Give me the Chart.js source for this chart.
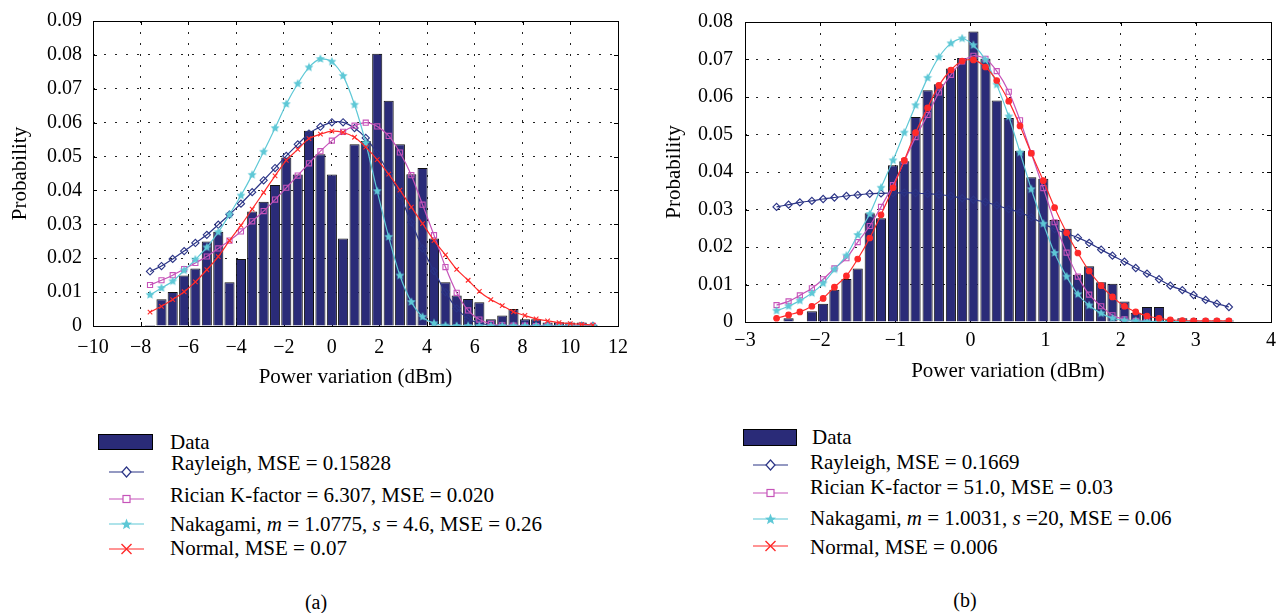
<!DOCTYPE html>
<html>
<head>
<meta charset="utf-8">
<title>Power variation histograms</title>
<script src="https://cdn.jsdelivr.net/npm/chart.js@4.4.1/dist/chart.umd.min.js"></script>
<style>
    body { margin: 0; background: #fff; font-family: "Liberation Serif", "Times New Roman", serif; }
    #page { position: relative; width: 1285px; height: 613px; overflow: hidden; }
    canvas { position: absolute; top: 0; }
    #chartA { left: 0; }
    #chartB { left: 640px; }
    .leg { position: absolute; font-size: 21px; line-height: 24px; white-space: pre; color: #000; }
    .sym { position: absolute; }
    .box { position: absolute; background: #2a2b78; border: 1px solid #000; box-sizing: border-box; }
    .cap { position: absolute; width: 60px; text-align: center; font-size: 20px; line-height: 24px; }
</style>
</head>
<body>
<div id="page">
    <canvas id="chartA" width="640" height="400"></canvas>
    <canvas id="chartB" width="645" height="400"></canvas>

    <!-- legend (a) -->
    <div class="box" style="left:98px;top:434px;width:55px;height:16px"></div>
    <div class="leg" style="left:170px;top:430px">Data</div>
    <svg class="sym" style="left:109px;top:465px" width="35" height="14"><line x1="0" y1="7" x2="35" y2="7" stroke="#2b3486" stroke-width="1.2"/><path d="M17.5 2 L22 7 L17.5 12 L13 7 Z" fill="#fff" stroke="#2b3486" stroke-width="1.2"/></svg>
    <div class="leg" style="left:171px;top:451px">Rayleigh, MSE = 0.15828</div>
    <svg class="sym" style="left:109px;top:492px" width="35" height="14"><line x1="0" y1="7" x2="35" y2="7" stroke="#c653b9" stroke-width="1.2"/><rect x="14" y="3.5" width="7" height="7" fill="#fff" stroke="#c653b9" stroke-width="1.2"/></svg>
    <div class="leg" style="left:170px;top:483px">Rician K-factor = 6.307, MSE = 0.020</div>
    <svg class="sym" style="left:109px;top:517px" width="35" height="14"><line x1="0" y1="7" x2="35" y2="7" stroke="#5ec8d6" stroke-width="1.2"/><path d="M17.5 1.5 L19 5.5 L23 5.7 L19.9 8.2 L21 12.3 L17.5 10 L14 12.3 L15.1 8.2 L12 5.7 L16 5.5 Z" fill="#5ec8d6"/></svg>
    <div class="leg" style="left:170px;top:512px">Nakagami, <i>m</i> = 1.0775, <i>s</i> = 4.6, MSE = 0.26</div>
    <svg class="sym" style="left:109px;top:542px" width="35" height="14"><line x1="0" y1="7" x2="35" y2="7" stroke="#ff2a2a" stroke-width="1.2"/><path d="M12.5 2 L22.5 12 M22.5 2 L12.5 12" stroke="#ff2a2a" stroke-width="1.4"/></svg>
    <div class="leg" style="left:170px;top:536px">Normal, MSE = 0.07</div>
    <div class="cap" style="left:286px;top:590px">(a)</div>

    <!-- legend (b) -->
    <div class="box" style="left:743px;top:429px;width:54px;height:17px"></div>
    <div class="leg" style="left:812px;top:425px">Data</div>
    <svg class="sym" style="left:753px;top:458px" width="35" height="14"><line x1="0" y1="7" x2="35" y2="7" stroke="#2b3486" stroke-width="1.2"/><path d="M17.5 2 L22 7 L17.5 12 L13 7 Z" fill="#fff" stroke="#2b3486" stroke-width="1.2"/></svg>
    <div class="leg" style="left:810px;top:450px">Rayleigh, MSE = 0.1669</div>
    <svg class="sym" style="left:753px;top:486px" width="35" height="14"><line x1="0" y1="7" x2="35" y2="7" stroke="#c653b9" stroke-width="1.2"/><rect x="14" y="3.5" width="7" height="7" fill="#fff" stroke="#c653b9" stroke-width="1.2"/></svg>
    <div class="leg" style="left:810px;top:475px">Rician K-factor = 51.0, MSE = 0.03</div>
    <svg class="sym" style="left:753px;top:512px" width="35" height="14"><line x1="0" y1="7" x2="35" y2="7" stroke="#5ec8d6" stroke-width="1.2"/><path d="M17.5 1.5 L19 5.5 L23 5.7 L19.9 8.2 L21 12.3 L17.5 10 L14 12.3 L15.1 8.2 L12 5.7 L16 5.5 Z" fill="#5ec8d6"/></svg>
    <div class="leg" style="left:810px;top:506px">Nakagami, <i>m</i> = 1.0031, <i>s</i> =20, MSE = 0.06</div>
    <svg class="sym" style="left:753px;top:539px" width="35" height="14"><line x1="0" y1="7" x2="35" y2="7" stroke="#ff2a2a" stroke-width="1.2"/><path d="M12.5 2 L22.5 12 M22.5 2 L12.5 12" stroke="#ff2a2a" stroke-width="1.4"/></svg>
    <div class="leg" style="left:810px;top:535px">Normal, MSE = 0.006</div>
    <div class="cap" style="left:935px;top:588px">(b)</div>
</div>

<script>
// ---- data ----
// (a) bin centres (dBm) and probabilities
const xA = [-7.61, -7.13, -6.66, -6.18, -5.71, -5.23, -4.75, -4.28, -3.80, -3.33,
    -2.85, -2.37, -1.90, -1.42, -0.95, -0.47, 0.01, 0.48, 0.96, 1.43,
    1.91, 2.39, 2.86, 3.34, 3.81, 4.29, 4.77, 5.24, 5.72, 6.19,
    6.67, 7.15, 7.62, 8.10, 8.57, 9.05, 9.53, 10.00, 10.48, 10.95];
const dataA = [0.0003, 0.0079, 0.0100, 0.0149, 0.0170, 0.0249, 0.0278, 0.0129, 0.0198, 0.0338,
    0.0367, 0.0416, 0.0497, 0.0447, 0.0576, 0.0507, 0.0447, 0.0258, 0.0536, 0.0546,
    0.0803, 0.0665, 0.0536, 0.0448, 0.0466, 0.0258, 0.0129, 0.0090, 0.0080, 0.0070,
    0.0020, 0.0031, 0.0050, 0.0020, 0.0020, 0.0010, 0.0011, 0.0010, 0.0010, 0.0003];
const rayleighA = [0.0161, 0.0177, 0.0198, 0.0221, 0.0245, 0.0269, 0.0299, 0.0329, 0.0361, 0.0395,
    0.0430, 0.0466, 0.0502, 0.0536, 0.0568, 0.0588, 0.0601, 0.0601, 0.0584, 0.0555,
    0.0509, 0.0451, 0.0384, 0.0306, 0.0229, 0.0162, 0.0100, 0.0052, 0.0022, 0.0008,
    0.0003, 0.0001, 0.0001, 0, 0, 0, 0, 0, 0, 0];
const ricianA = [0.0121, 0.0135, 0.0150, 0.0168, 0.0186, 0.0205, 0.0229, 0.0252, 0.0279, 0.0309,
    0.0339, 0.0373, 0.0408, 0.0444, 0.0480, 0.0516, 0.0547, 0.0573, 0.0591, 0.0600,
    0.0589, 0.0561, 0.0512, 0.0445, 0.0358, 0.0268, 0.0174, 0.0098, 0.0046, 0.0019,
    0.0006, 0.0002, 0.0001, 0.0001, 0, 0, 0, 0, 0, 0];
const nakagamiA = [0.0092, 0.0112, 0.0132, 0.0164, 0.0196, 0.0232, 0.0277, 0.0329, 0.0385, 0.0446,
    0.0514, 0.0584, 0.0655, 0.0715, 0.0763, 0.0788, 0.0780, 0.0738, 0.0653, 0.0540,
    0.0398, 0.0263, 0.0149, 0.0071, 0.0027, 0.0008, 0.0001, 0, 0, 0,
    0, 0, 0, 0, 0, 0, 0, 0, 0, 0];
const normalA = [0.0041, 0.0058, 0.0078, 0.0101, 0.0130, 0.0166, 0.0205, 0.0252, 0.0297, 0.0345,
    0.0394, 0.0443, 0.0489, 0.0521, 0.0553, 0.0566, 0.0575, 0.0571, 0.0557, 0.0528,
    0.0491, 0.0448, 0.0401, 0.0351, 0.0302, 0.0252, 0.0210, 0.0167, 0.0135, 0.0102,
    0.0078, 0.0060, 0.0042, 0.0031, 0.0021, 0.0015, 0.0010, 0.0007, 0.0005, 0.0003];

// (b) bin centres (dBm) and probabilities
const xB = [-2.58, -2.42, -2.27, -2.11, -1.96, -1.81, -1.65, -1.50, -1.34, -1.19,
    -1.03, -0.88, -0.73, -0.57, -0.42, -0.26, -0.11, 0.04, 0.20, 0.35,
    0.51, 0.66, 0.81, 0.97, 1.12, 1.28, 1.43, 1.58, 1.74, 1.89,
    2.05, 2.20, 2.35, 2.51, 2.66, 2.82, 2.97, 3.13, 3.28, 3.44];
const dataB = [0, 0.0010, 0, 0.0029, 0.0049, 0.0086, 0.0115, 0.0143, 0.0290, 0.0277,
    0.0418, 0.0429, 0.0547, 0.0618, 0.0634, 0.0676, 0.0704, 0.0775, 0.0702, 0.0591,
    0.0544, 0.0457, 0.0386, 0.0382, 0.0272, 0.0249, 0.0126, 0.0149, 0.0106, 0.0102,
    0.0055, 0.0025, 0.0040, 0.0040, 0.0006, 0.0010, 0.0004, 0.0004, 0.0004, 0.0004];
const rayleighB = [0.0307, 0.0313, 0.0319, 0.0323, 0.0328, 0.0332, 0.0336, 0.0339, 0.0342, 0.0343,
    0.0344, 0.0345, 0.0344, 0.0342, 0.0340, 0.0336, 0.0330, 0.0326, 0.0320, 0.0311,
    0.0301, 0.0292, 0.0279, 0.0262, 0.0248, 0.0236, 0.0225, 0.0211, 0.0193, 0.0177,
    0.0161, 0.0144, 0.0129, 0.0114, 0.0097, 0.0085, 0.0072, 0.0059, 0.0049, 0.0040];
const ricianB = [0.0045, 0.0055, 0.0071, 0.0090, 0.0114, 0.0143, 0.0170, 0.0213, 0.0256, 0.0307,
    0.0365, 0.0429, 0.0493, 0.0552, 0.0612, 0.0659, 0.0695, 0.0710, 0.0702, 0.0669,
    0.0614, 0.0538, 0.0450, 0.0357, 0.0266, 0.0185, 0.0121, 0.0073, 0.0042, 0.0018,
    0.0007, 0.0003, 0.0002, 0.0001, 0.0001, 0.0001, 0.0001, 0.0001, 0.0001, 0.0001];
const nakagamiB = [0.0030, 0.0042, 0.0057, 0.0077, 0.0103, 0.0140, 0.0177, 0.0232, 0.0288, 0.0358,
    0.0431, 0.0505, 0.0578, 0.0651, 0.0706, 0.0743, 0.0756, 0.0738, 0.0699, 0.0633,
    0.0548, 0.0452, 0.0354, 0.0262, 0.0184, 0.0121, 0.0074, 0.0044, 0.0023, 0.0010,
    0.0004, 0.0003, 0.0001, 0.0001, 0.0001, 0.0001, 0.0001, 0.0001, 0.0001, 0.0001];
const normalB = [0.0010, 0.0019, 0.0027, 0.0042, 0.0063, 0.0093, 0.0123, 0.0168, 0.0224, 0.0286,
    0.0358, 0.0431, 0.0505, 0.0571, 0.0631, 0.0672, 0.0696, 0.0699, 0.0680, 0.0644,
    0.0589, 0.0523, 0.0450, 0.0377, 0.0305, 0.0238, 0.0184, 0.0136, 0.0097, 0.0067,
    0.0042, 0.0027, 0.0016, 0.0010, 0.0006, 0.0004, 0.0003, 0.0003, 0.0003, 0.0003];

// ---- styling ----
const NAVY = '#2a2b78';
const RAY = '#2b3486';
const RIC = '#c653b9';
const NAK = '#5ec8d6';
const NOR = '#ff2a2a';

Chart.defaults.font.family = '"Liberation Serif", "Times New Roman", serif';
Chart.defaults.font.size = 20;
Chart.defaults.color = '#000';

// filled five point star used as the Nakagami marker
function starImage(color, size) {
    const c = document.createElement('canvas');
    c.width = size;
    c.height = size;
    const g = c.getContext('2d');
    const r = size / 2;
    g.beginPath();
    for (let i = 0; i < 10; i++) {
        const a = -Math.PI / 2 + i * Math.PI / 5;
        const rr = i % 2 ? r * 0.45 : r - 0.3;
        g.lineTo(r + rr * Math.cos(a), r + rr * Math.sin(a));
    }
    g.closePath();
    g.fillStyle = color;
    g.fill();
    return c;
}
const star = starImage(NAK, 10);

// frame round the plot plus matlab-like inner ticks
const framePlugin = {
    id: 'frame',
    beforeDatasetsDraw(chart) {
        const { ctx, chartArea: a, scales } = chart;
        ctx.save();
        ctx.strokeStyle = '#000';
        ctx.lineWidth = 1;
        ctx.beginPath();
        scales.x.ticks.forEach((t, i) => {
            const px = Math.round(scales.x.getPixelForTick(i)) + 0.5;
            ctx.moveTo(px, a.bottom); ctx.lineTo(px, a.bottom - 4);
            ctx.moveTo(px, a.top); ctx.lineTo(px, a.top + 4);
        });
        scales.y.ticks.forEach((t, i) => {
            const py = Math.round(scales.y.getPixelForTick(i)) + 0.5;
            ctx.moveTo(a.left, py); ctx.lineTo(a.left + 4, py);
            ctx.moveTo(a.right, py); ctx.lineTo(a.right - 4, py);
        });
        ctx.stroke();
        ctx.restore();
    },
    afterDatasetsDraw(chart) {
        const { ctx, chartArea: a } = chart;
        ctx.save();
        ctx.strokeStyle = '#000';
        ctx.lineWidth = 1;
        ctx.strokeRect(Math.round(a.left) + 0.5, Math.round(a.top) + 0.5,
            Math.round(a.right - a.left), Math.round(a.bottom - a.top));
        ctx.restore();
    }
};

function points(xs, ys) {
    return xs.map((x, i) => ({ x: x, y: ys[i] }));
}

function lineSet(label, xs, ys, color, style, radius, filled, order) {
    return {
        type: 'line',
        label: label,
        data: points(xs, ys),
        borderColor: color,
        borderWidth: 1.2,
        pointStyle: style,
        pointRadius: radius,
        pointBorderWidth: 1.1,
        pointBorderColor: color,
        pointBackgroundColor: filled ? color : 'rgba(255,255,255,0)',
        tension: 0.25,
        order: order
    };
}

// build one panel
function createChart(cfg) {
    const ctx = document.getElementById(cfg.canvasId).getContext('2d');
    const grid = { color: '#222', lineWidth: 1, drawTicks: false, offset: false };
    return new Chart(ctx, {
        type: 'bar',
        data: {
            datasets: [
                lineSet('Rayleigh', cfg.x, cfg.rayleigh, RAY, 'rectRot', 3.6, false, 4),
                lineSet('Rician', cfg.x, cfg.rician, RIC, 'rect', 3.6, false, 3),
                lineSet('Nakagami', cfg.x, cfg.nakagami, NAK, star, 4, true, 2),
                lineSet('Normal', cfg.x, cfg.normal, NOR, cfg.normalStyle, cfg.normalRadius, true, 1),
                {
                    type: 'bar',
                    label: 'Data',
                    data: points(cfg.x, cfg.data),
                    backgroundColor: NAVY,
                    borderColor: '#111',
                    borderWidth: 1,
                    barPercentage: 0.9,
                    categoryPercentage: 1.0,
                    order: 10
                }
            ]
        },
        options: {
            responsive: false,
            animation: false,
            layout: { padding: cfg.padding },
            plugins: { legend: { display: false }, tooltip: { enabled: false } },
            scales: {
                x: {
                    type: 'linear',
                    min: cfg.xMin,
                    max: cfg.xMax,
                    offset: false,
                    grid: grid,
                    border: { display: false, dash: [2, 9] },
                    ticks: {
                        stepSize: cfg.xStep,
                        padding: cfg.xTickPad,
                        maxRotation: 0,
                        font: { size: 20, lineHeight: 1 },
                        callback: v => (v < 0 ? '\u2212' + Math.abs(v) : String(v))
                    },
                    title: {
                        display: true, text: 'Power variation (dBm)', font: { size: 21 },
                        padding: { top: 0, bottom: cfg.xTitlePad }
                    },
                    afterFit: s => { s.height = cfg.xAxisHeight; }
                },
                y: {
                    min: 0,
                    max: cfg.yMax,
                    grid: grid,
                    border: { display: false, dash: [2, 9] },
                    ticks: {
                        stepSize: 0.01,
                        padding: cfg.yTickPad,
                        font: { size: 20, lineHeight: 1 },
                        callback: v => (v === 0 ? '0' : v.toFixed(2))
                    },
                    title: {
                        display: true, text: 'Probability', font: { size: 21 },
                        padding: { top: cfg.yTitlePad, bottom: 0 }
                    },
                    afterFit: s => { s.width = cfg.yAxisWidth; }
                }
            }
        },
        plugins: [framePlugin]
    });
}

const chartConfigurations = [
    {
        canvasId: 'chartA', x: xA, data: dataA, rayleigh: rayleighA, rician: ricianA,
        nakagami: nakagamiA, normal: normalA, normalStyle: 'crossRot', normalRadius: 3.2,
        xMin: -10, xMax: 12, xStep: 2, yMax: 0.09,
        padding: { left: 0, top: 15, right: 18, bottom: 0 },
        yAxisWidth: 93, xAxisHeight: 74, xTickPad: 12, xTitlePad: 10, yTickPad: 11, yTitlePad: 8
    },
    {
        canvasId: 'chartB', x: xB, data: dataB, rayleigh: rayleighB, rician: ricianB,
        nakagami: nakagamiB, normal: normalB, normalStyle: 'circle', normalRadius: 2.8,
        xMin: -3, xMax: 4, xStep: 1, yMax: 0.08,
        padding: { left: 0, top: 10, right: 9, bottom: 0 },
        yAxisWidth: 105, xAxisHeight: 78, xTickPad: 9, xTitlePad: 16, yTickPad: 12, yTitlePad: 22
    }
];

chartConfigurations.forEach(cfg => createChart(cfg));
</script>
</body>
</html>
